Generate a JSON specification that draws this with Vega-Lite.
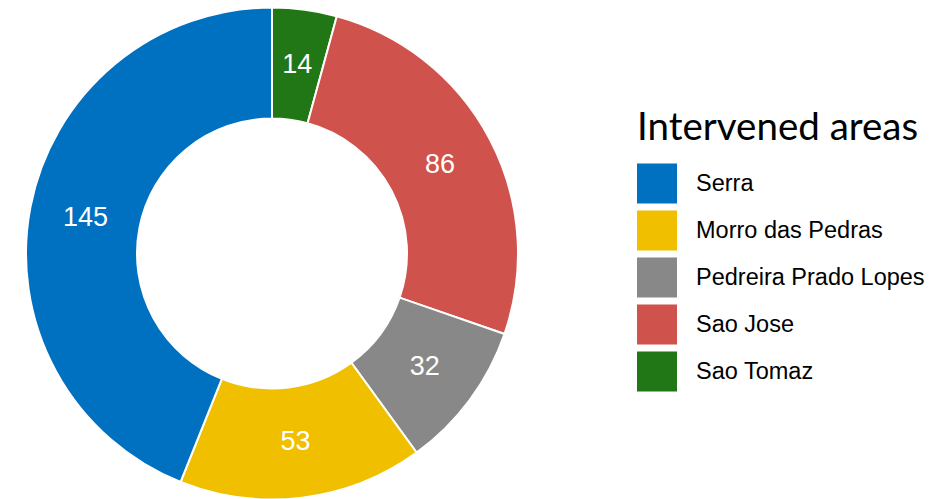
{
  "$schema": "https://vega.github.io/schema/vega-lite/v6.json",
  "autosize": {"type": "none"},
  "padding": {"left": 0, "top": 8, "right": 407, "bottom": 0},
  "width": 544,
  "height": 491,
  "background": "white",
  "view": {"stroke": null},
  "data": {
    "values": [
      {"area": "Sao Tomaz", "count": 14, "rank": 1},
      {"area": "Sao Jose", "count": 86, "rank": 2},
      {"area": "Pedreira Prado Lopes", "count": 32, "rank": 3},
      {"area": "Morro das Pedras", "count": 53, "rank": 4},
      {"area": "Serra", "count": 145, "rank": 5}
    ]
  },
  "encoding": {
    "theta": {"field": "count", "type": "quantitative", "stack": true},
    "order": {"field": "rank", "type": "quantitative"}
  },
  "layer": [
    {
      "mark": {"type": "arc", "outerRadius": 246, "innerRadius": 135, "stroke": "white", "strokeWidth": 2},
      "encoding": {
        "color": {
          "field": "area",
          "type": "nominal",
          "scale": {
            "domain": ["Serra", "Morro das Pedras", "Pedreira Prado Lopes", "Sao Jose", "Sao Tomaz"],
            "range": ["#0070C0", "#F0C000", "#888888", "#D0524C", "#217616"]
          },
          "legend": {
            "title": "Intervened areas",
            "orient": "none",
            "legendX": 637,
            "legendY": 102,
            "titleFont": "Lato",
            "titleFontSize": 38.5,
            "titleFontWeight": "normal",
            "titleColor": "black",
            "titleLimit": 600,
            "titlePadding": 15,
            "labelFont": "Liberation Sans",
            "labelFontSize": 23.5,
            "labelColor": "black",
            "labelOffset": 19,
            "symbolType": "square",
            "symbolSize": 1600,
            "symbolStrokeWidth": 0,
            "symbolOpacity": 1,
            "rowPadding": 7,
            "labelLimit": 400
          }
        }
      }
    },
    {
      "mark": {"type": "text", "radius": 190, "font": "Liberation Sans", "fontSize": 27, "fill": "white"},
      "encoding": {
        "text": {"field": "count", "type": "quantitative"}
      }
    }
  ]
}
